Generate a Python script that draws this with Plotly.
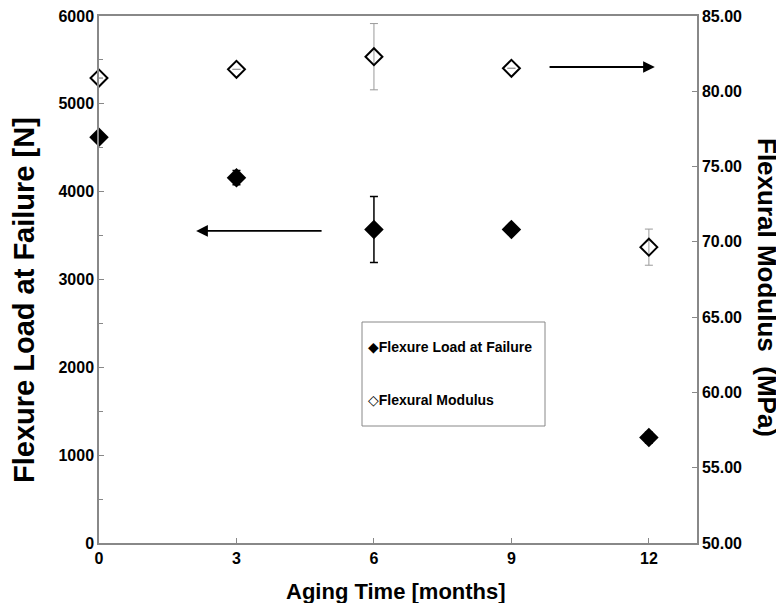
import plotly.graph_objects as go

months = [0, 3, 6, 9, 12]
load_n = [4620, 4160, 3570, 3570, 1200]
load_err = [0, 80, 375, 0, 60]
modulus_mpa = [80.88, 81.46, 82.3, 81.53, 69.65]
modulus_err = [0, 0, 2.2, 0, 1.2]

x_ticks = [0, 3, 6, 9, 12]
left_ticks = [0, 1000, 2000, 3000, 4000, 5000, 6000]
right_ticks = [50, 55, 60, 65, 70, 75, 80, 85]

series_names = ["Flexure Load at Failure", "Flexural Modulus"]

FONT = "Liberation Sans, Arial, sans-serif"
PLOT_W, PLOT_H = 598, 527

fig = go.Figure()
fig.add_trace(go.Scatter(
    x=months, y=load_n, mode="markers", name=series_names[0],
    marker=dict(symbol="diamond", size=15, color="black"),
    error_y=dict(type="data", array=load_err, color="black", thickness=1.5, width=4),
    cliponaxis=False, showlegend=False,
))
fig.add_trace(go.Scatter(
    x=months, y=modulus_mpa, mode="markers", name=series_names[1],
    marker=dict(symbol="diamond-open", size=13, color="black", line=dict(width=2, color="black")),
    error_y=dict(type="data", array=modulus_err, color="#9a9a9a", thickness=1, width=4),
    cliponaxis=False, yaxis="y2", showlegend=False,
))

axis_common = dict(showline=True, linecolor="#888888", linewidth=1.5, ticks="inside",
                   tickcolor="#888888", ticklen=5, showgrid=False, zeroline=False,
                   ticklabeloverflow="allow",
                   tickfont=dict(family=FONT, size=16, color="black", weight="bold"))

fig.update_layout(
    width=776, height=595,
    margin=dict(l=91, r=87, t=8, b=60, autoexpand=False),
    paper_bgcolor="white", plot_bgcolor="white",
    showlegend=False,
    xaxis=dict(range=[0, 13.05], tickvals=x_ticks, mirror=True, **axis_common),
    yaxis=dict(range=[0, 6000.5], tickvals=left_ticks, mirror=True,
               minor=dict(ticks="inside", dtick=500, ticklen=4, tickcolor="#888888"),
               **axis_common),
    yaxis2=dict(range=[50, 85.003], tickvals=right_ticks, overlaying="y", side="right",
                tickformat=".2f", **axis_common),
    font=dict(family=FONT, color="black"),
)

def px_x(page_x):
    return (page_x - 99) / PLOT_W

def px_y(page_y):
    return (543 - page_y) / PLOT_H

# axis titles
fig.add_annotation(text="<b>Aging Time [months]</b>", xref="paper", yref="paper",
                   x=px_x(396), y=px_y(591), xanchor="center", yanchor="middle", showarrow=False,
                   font=dict(family=FONT, size=22, color="black"))
fig.add_annotation(text="<b>Flexure Load at Failure [N]</b>", xref="paper", yref="paper",
                   x=px_x(24), y=px_y(300), xanchor="center", yanchor="middle", showarrow=False,
                   textangle=-90, font=dict(family=FONT, size=29, color="black"))
fig.add_annotation(text="<b>Flexural Modulus  (MPa)</b>", xref="paper", yref="paper",
                   x=px_x(767), y=px_y(287), xanchor="center", yanchor="middle", showarrow=False,
                   textangle=90, font=dict(family=FONT, size=26, color="black"))

# legend box drawn by hand
fig.add_shape(type="rect", xref="paper", yref="paper",
              x0=px_x(362), x1=px_x(545), y0=px_y(426), y1=px_y(322),
              line=dict(color="#888888", width=1), fillcolor="white", layer="below")
fig.add_annotation(text="<span style='font-family:DejaVu Sans'>◆</span><b>" + series_names[0] + "</b>",
                   xref="paper", yref="paper", x=px_x(366), y=px_y(347),
                   xanchor="left", yanchor="middle", showarrow=False,
                   font=dict(family=FONT, size=14, color="black"))
fig.add_annotation(text="<span style='font-family:DejaVu Sans'>◇</span><b>" + series_names[1] + "</b>",
                   xref="paper", yref="paper", x=px_x(366), y=px_y(400),
                   xanchor="left", yanchor="middle", showarrow=False,
                   font=dict(family=FONT, size=14, color="black"))

# arrows
fig.add_annotation(x=2.12, y=3553, ax=4.89, ay=3553, xref="x", yref="y", axref="x", ayref="y",
                   showarrow=True, arrowhead=2, arrowsize=1.3, arrowwidth=1.8, arrowcolor="black", text="")
fig.add_annotation(x=12.13, y=5420, ax=9.8, ay=5420, xref="x", yref="y", axref="x", ayref="y",
                   showarrow=True, arrowhead=2, arrowsize=1.3, arrowwidth=1.8, arrowcolor="black", text="")

fig.write_html("out.html")
